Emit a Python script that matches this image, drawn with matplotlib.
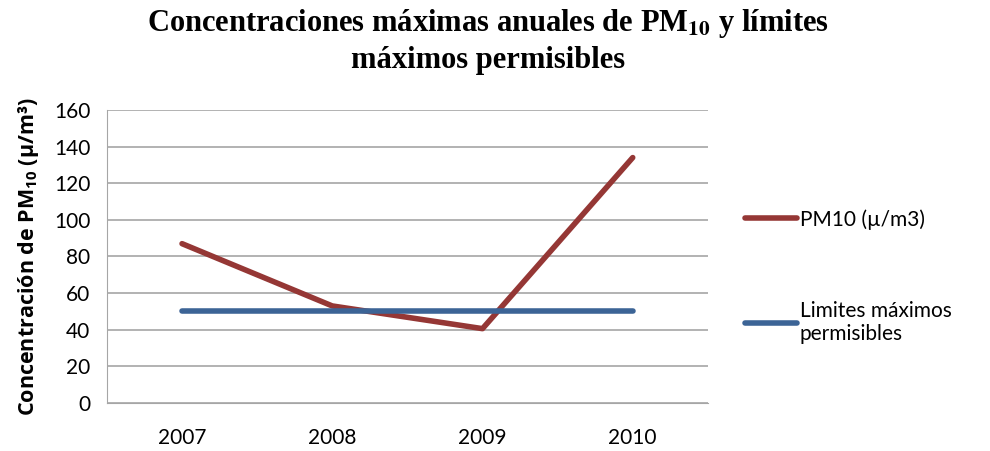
import matplotlib.pyplot as plt

years = ["2007", "2008", "2009", "2010"]
pm10 = [87, 53, 40.6, 134]
limite = [50, 50, 50, 50]

plt.rcParams['font.family'] = ['Lato', 'DejaVu Sans']
plt.rcParams['mathtext.fontset'] = 'custom'
plt.rcParams['mathtext.rm'] = 'Open Sans'
plt.rcParams['mathtext.bf'] = 'Open Sans:bold'

fig = plt.figure(figsize=(9.9, 4.51), dpi=100)
ax = fig.add_axes([0.108, 0.1064, 0.607, 0.6498])

x = list(range(len(years)))
ax.plot(x, pm10, color="#953735", linewidth=4, solid_capstyle="round", label="PM10 (µ/m3)")
ax.plot(x, limite, color="#3C6496", linewidth=4, solid_capstyle="round", label="Limites máximos\npermisibles")

ax.set_xlim(-0.5, 3.5)
ax.set_ylim(0, 160)
ax.set_yticks(range(0, 161, 20))
ax.set_xticks(x)
ax.set_xticklabels(years)
ax.grid(True, axis="y", color="#A6A6A6", linewidth=1.2)
ax.set_axisbelow(True)
for s in ["top", "right"]:
    ax.spines[s].set_visible(False)
ax.spines["left"].set_color("#A6A6A6")
ax.spines["bottom"].set_color("#A6A6A6")
ax.tick_params(axis="both", labelsize=15, length=0)
ax.tick_params(axis="x", pad=18)
ax.tick_params(axis="y", pad=12)

ax.set_ylabel("Concentración de PM$_{\\mathbf{10}}$ (µ/m³)", fontsize=15.5, fontweight="bold",
              family="Open Sans")
ax.yaxis.set_label_coords(-0.11, 0.5)

fig.text(0.493, 0.985, "Concentraciones máximas anuales de PM$_{\\mathbf{10}}$ y límites\nmáximos permisibles",
         ha="center", va="top", fontsize=22, fontweight="bold", family="Liberation Serif",
         math_fontfamily="stix", linespacing=1.3)

leg = ax.legend(loc="center left", bbox_to_anchor=(1.03, 0.432), frameon=False, fontsize=15,
                handlelength=2.5, handletextpad=0.15, labelspacing=3.4)

fig.savefig("out.png", dpi=100)
